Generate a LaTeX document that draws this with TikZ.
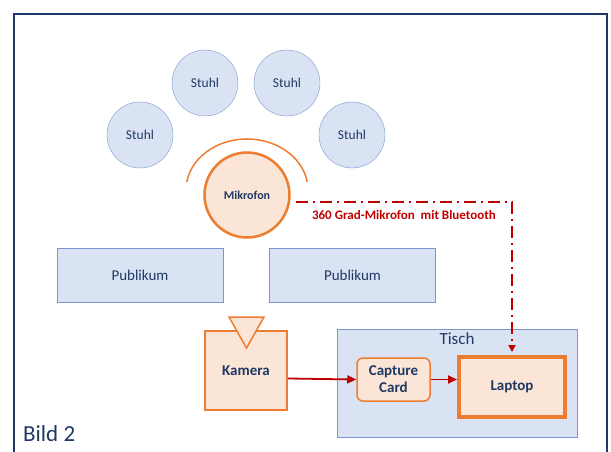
\documentclass[tikz,border=0pt]{standalone}
\usepackage{fontspec}
\setmainfont{Carlito}
\usetikzlibrary{arrows.meta,positioning,calc}
\definecolor{rahmen}{RGB}{31,56,100}
\definecolor{hellblau}{RGB}{218,227,243}
\definecolor{blaurand}{RGB}{124,150,205}
\definecolor{orangerand}{RGB}{237,125,49}
\definecolor{hellorange}{RGB}{251,229,214}
\definecolor{dunkelrot}{RGB}{192,0,0}

\begin{document}
\begin{tikzpicture}[
    x=1pt,y=-1pt,
    stuhl/.style={circle,draw=blaurand,fill=hellblau,minimum size=66pt,inner sep=0pt,text=rahmen,font=\fontsize{13.5}{15}\selectfont},
    publbox/.style={draw=blaurand,fill=hellblau,minimum width=166pt,minimum height=54pt,inner sep=0pt,text=rahmen,font=\fontsize{15}{17}\selectfont},
    geraet/.style={draw=orangerand,fill=hellorange,text=rahmen,inner sep=0pt,align=center,font=\bfseries\fontsize{15}{17}\selectfont},
    signal/.style={draw=dunkelrot,line width=1.8pt,-{Triangle[length=9pt,width=8pt]}},
    >=Stealth
]
\useasboundingbox (0,0) rectangle (611,452);
\clip (0,0) rectangle (611,452);
\draw[rahmen,line width=2.2pt] (14,14) rectangle (607,480);

% Stuehle
\node[stuhl] (s1) at (140,135) {Stuhl};
\node[stuhl] (s2) at (205,83) {Stuhl};
\node[stuhl] (s3) at (287,83) {Stuhl};
\node[stuhl] (s4) at (352,135) {Stuhl};

% Mikrofon
\draw[orangerand,line width=1.5pt] ([shift={(171:61pt and 51pt)}]247,190) arc[start angle=171,end angle=9,x radius=61pt,y radius=51pt];
\node[geraet,circle,line width=2.5pt,minimum size=85pt,font=\bfseries\fontsize{12}{14}\selectfont] (mikro) at (247,195) {Mikrofon};

% Publikum
\node[publbox] (p1) at (140,275) {Publikum};
\node[publbox] (p2) at (352.5,275) {Publikum};

% Tisch
\node[draw=blaurand,fill=hellblau,minimum width=240pt,minimum height=108pt,inner sep=0pt] (tisch) at (457,383) {};
\node[below=4pt of tisch.north,inner sep=0pt,text=rahmen,font=\fontsize{17}{19}\selectfont] (tischlabel) {Tisch};

% Geraete
\node[geraet,line width=2pt,minimum width=82pt,minimum height=79pt] (kamera) at (246,370.5) {Kamera};
\draw[orangerand,fill=hellorange,line width=1.5pt] (229,317) -- (264,317) -- (246.5,348) -- cycle;
\node[geraet,line width=1.5pt,rounded corners=6pt,minimum width=73pt,minimum height=43pt] (capture) at (393.5,379.5) {Capture\\Card};
\node[geraet,line width=4pt,minimum width=106pt,minimum height=60pt] (laptop) at (512,387) {Laptop};

% Verbindungen
\draw[signal] ([yshift=-8pt]kamera.east) -- (capture.west);
\draw[signal] (capture.east) -- (laptop.west |- capture.east);
\draw[signal,line width=2pt,dash pattern=on 12pt off 5pt on 2pt off 5pt,shorten >=3pt,-{Triangle[length=7pt,width=7pt]}] ([xshift=5pt,yshift=-7pt]mikro.east) -| (laptop.north)
    node[pos=0.25,below=4pt,text=dunkelrot,font=\bfseries\fontsize{13}{15}\selectfont] {360 Grad-Mikrofon\ \ mit Bluetooth};

\node[anchor=base west,inner sep=0pt,text=rahmen,font=\fontsize{23}{26}\selectfont] (bild) at (23,441) {Bild 2};
\end{tikzpicture}
\end{document}
